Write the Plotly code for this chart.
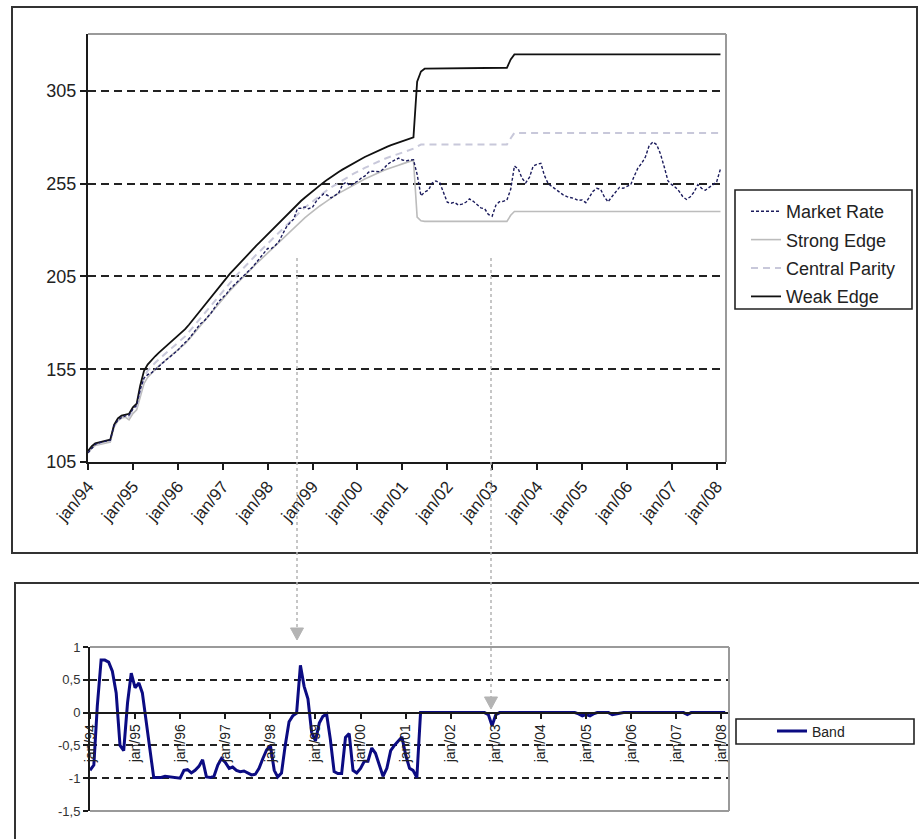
import pandas as pd
import plotly.graph_objects as go

W, H = 919, 839


def px(x):
    return x / W


def py(y):
    return 1 - y / H


# ---------------------------------------------------------------- data
# monthly observations, Jan 1994 .. Feb 2008
month_dates = pd.date_range("1994-01-01", periods=170, freq="MS")

market_rate = [
    110.0, 112.5, 114.5, 115.4, 115.9, 116.4, 116.8, 124.6, 127.5, 129.0,
    129.9, 130.3, 133.5, 135.6, 143.8, 150.2, 152.1, 153.0, 154.9, 156.8,
    158.6, 160.2, 161.8, 163.5, 165.2, 167.5, 169.3, 171.4, 174.0, 176.6,
    179.4, 180.8, 183.1, 185.6, 188.7, 191.6, 193.7, 195.7, 198.2, 200.1,
    202.1, 204.1, 206.1, 208.1, 210.1, 212.6, 215.2, 217.8, 220.1, 220.1,
    221.5, 223.7, 227.8, 231.5, 233.9, 235.9, 241.7, 241.8, 242.5, 241.5,
    242.4, 245.6, 247.7, 249.5, 248.8, 247.4, 248.6, 249.9, 254.3, 255.9,
    253.9, 254.9, 256.3, 258.0, 259.1, 261.2, 261.7, 261.6, 261.5, 263.0,
    265.4, 266.7, 267.7, 268.8, 267.8, 267.3, 267.7, 267.9, 260.0, 248.5,
    250.5, 251.6, 255.4, 256.5, 255.5, 250.5, 245.0, 244.5, 245.0, 243.5,
    244.0, 245.0, 246.8, 245.5, 243.5, 242.0, 241.5, 238.5, 237.5, 243.5,
    245.3, 245.5, 246.2, 252.0, 264.5, 263.0, 258.0, 255.5, 258.5, 264.5,
    265.5, 266.0, 259.5, 255.0, 253.5, 252.0, 250.5, 249.0, 248.0, 247.5,
    247.0, 246.0, 246.3, 244.8, 247.5, 251.0, 252.5, 252.0, 248.0, 245.2,
    248.0, 250.5, 253.0, 252.5, 253.5, 254.5, 259.0, 263.5, 266.0, 269.5,
    275.5, 277.5, 276.0, 271.0, 264.0, 256.5, 254.5, 253.0, 251.0, 248.0,
    246.5, 248.0, 250.5, 254.5, 252.5, 251.5, 253.0, 254.5, 256.0, 263.0,
]

band_position = [
    -0.88, -0.80, 0.10, 0.80, 0.80, 0.77, 0.63, 0.30, -0.50, -0.58,
    0.15, 0.60, 0.38, 0.45, 0.30, -0.12, -0.55, -0.99, -0.99, -0.99,
    -0.97, -0.98, -0.99, -1.00, -1.00, -0.88, -0.87, -0.92, -0.88, -0.82,
    -0.72, -0.98, -0.99, -0.97, -0.80, -0.70, -0.76, -0.85, -0.83, -0.88,
    -0.90, -0.89, -0.92, -0.95, -0.94, -0.85, -0.70, -0.57, -0.50, -0.88,
    -0.98, -0.92, -0.50, -0.14, -0.05, -0.01, 0.72, 0.40, 0.21, -0.30,
    -0.43, -0.16, -0.06, -0.02, -0.40, -0.90, -0.93, -0.93, -0.38, -0.32,
    -0.88, -0.92, -0.85, -0.74, -0.74, -0.54, -0.62, -0.80, -0.97, -0.85,
    -0.58, -0.50, -0.44, -0.37, -0.65, -0.85, -0.88, -0.99, 0.00, 0.00,
    0.00, 0.00, 0.00, 0.00, 0.00, 0.00, 0.00, 0.00, 0.00, 0.00,
    0.00, 0.00, 0.00, 0.00, 0.00, 0.00, -0.03, -0.20, -0.03, 0.00,
    0.00, 0.00, 0.00, 0.00, 0.00, 0.00, 0.00, 0.00, 0.00, 0.00,
    0.00, 0.00, 0.00, 0.00, 0.00, 0.00, 0.00, 0.00, 0.00, 0.00,
    -0.02, -0.05, -0.03, -0.05, -0.02, 0.00, 0.00, 0.00, 0.00, -0.03,
    -0.02, 0.00, 0.00, 0.00, 0.00, 0.00, 0.00, 0.00, 0.00, 0.00,
    0.00, 0.00, 0.00, 0.00, 0.00, 0.00, 0.00, 0.00, 0.00, -0.03,
    0.00, 0.00, 0.00, 0.00, 0.00, 0.00, 0.00, 0.00, 0.00, 0.00,
]

# band edges: monthly through Jul 2001, then only where the band changes
edge_dates = list(month_dates[:91]) + [
    pd.Timestamp(d) for d in ["2003-05-01", "2003-06-01", "2003-07-01", "2008-02-01"]
]

weak_edge = [
    111.0, 113.5, 115.0, 115.5, 116.0, 116.5, 117.0, 125.0, 128.5, 130.0,
    130.5, 131.0, 134.5, 136.5, 146.0, 154.0, 157.5, 160.0, 162.0, 164.0,
    165.8, 167.5, 169.2, 171.0, 172.8, 174.7, 176.6, 179.0, 181.5, 184.0,
    186.5, 189.0, 191.5, 194.0, 196.5, 199.0, 201.5, 204.0, 206.5, 208.7,
    210.9, 213.0, 215.2, 217.4, 219.5, 221.6, 223.6, 225.6, 227.6, 229.6,
    231.6, 233.6, 235.6, 238.0, 240.0, 242.0, 244.0, 245.8, 247.6, 249.3,
    251.0, 252.6, 254.2, 255.7, 257.2, 258.7, 260.0, 261.3, 262.6, 263.8,
    265.0, 266.2, 267.2, 268.3, 269.4, 270.4, 271.4, 272.4, 273.3, 274.2,
    275.0, 275.8, 276.5, 277.2, 277.9, 278.6, 279.3, 280.0, 310.0, 315.5,
    317.0, 317.5, 322.0, 324.7, 324.7,
]

strong_edge = [
    109.9, 112.4, 113.9, 114.3, 114.8, 115.3, 115.8, 123.8, 127.2, 128.7,
    129.2, 127.7, 131.1, 133.1, 139.6, 147.2, 150.6, 153.0, 154.9, 156.8,
    158.5, 160.1, 161.8, 163.5, 165.2, 167.0, 168.8, 171.1, 173.5, 175.9,
    178.3, 180.7, 183.1, 185.5, 187.9, 190.2, 192.6, 195.0, 197.4, 199.5,
    201.6, 203.6, 205.7, 207.8, 209.8, 211.9, 213.8, 215.7, 217.6, 219.5,
    221.4, 223.3, 225.2, 227.5, 229.4, 231.4, 233.3, 235.0, 236.7, 238.3,
    240.0, 241.5, 243.0, 244.4, 245.9, 247.3, 248.6, 249.8, 251.0, 252.2,
    253.3, 254.5, 255.4, 256.5, 257.5, 258.5, 259.5, 260.4, 261.3, 262.1,
    262.9, 263.7, 264.3, 265.0, 265.7, 266.3, 267.0, 267.7, 237.0, 235.0,
    234.7, 234.7, 238.0, 240.0, 240.0,
]

central_parity = [
    110.5, 113.0, 114.5, 114.9, 115.4, 115.9, 116.4, 124.4, 127.9, 129.4,
    129.9, 129.4, 132.8, 134.8, 142.8, 150.6, 154.1, 156.5, 158.5, 160.4,
    162.2, 163.8, 165.5, 167.3, 169.0, 170.9, 172.7, 175.1, 177.5, 180.0,
    182.4, 184.9, 187.3, 189.8, 192.2, 194.6, 197.1, 199.5, 202.0, 204.1,
    206.3, 208.3, 210.5, 212.6, 214.7, 216.8, 218.7, 220.7, 222.6, 224.6,
    226.5, 228.5, 230.4, 232.8, 234.7, 236.7, 238.7, 240.4, 242.2, 243.8,
    245.5, 247.1, 248.6, 250.1, 251.6, 253.0, 254.3, 255.6, 256.8, 258.0,
    259.2, 260.4, 261.3, 262.4, 263.5, 264.5, 265.5, 266.4, 267.3, 268.2,
    269.0, 269.8, 270.4, 271.1, 271.8, 272.5, 273.2, 273.9, 275.0, 276.1,
    276.1, 276.1, 279.5, 282.4, 282.4,
]

year_ticks = pd.date_range("1994-01-01", "2008-01-01", freq="YS")
year_labels = [
    "jan/94", "jan/95", "jan/96", "jan/97", "jan/98", "jan/99", "jan/00",
    "jan/01", "jan/02", "jan/03", "jan/04", "jan/05", "jan/06", "jan/07", "jan/08",
]

rate_ticks = [105, 155, 205, 255, 305]
band_ticks = [-1.5, -1, -0.5, 0, 0.5, 1]
band_tick_labels = ["-1,5", "-1", "-0,5", "0", "0,5", "1"]

# ---------------------------------------------------------------- styling
FONT = "Liberation Sans, Arial, sans-serif"
INK = "#1a1a1a"
TOP_X = (88, 726)
TOP_Y = (34, 462)
BOT_X = (90, 729)
BOT_Y = (647, 811)
BAND_RANGE = [-1.5, 1.0]

fig = go.Figure()

fig.add_trace(go.Scatter(
    x=edge_dates, y=strong_edge, name="Strong Edge", mode="lines",
    line=dict(color="#bcbcbc", width=1.6),
    legendgroup="g2", legendrank=2, xaxis="x", yaxis="y",
))
fig.add_trace(go.Scatter(
    x=edge_dates, y=central_parity, name="Central Parity", mode="lines",
    line=dict(color="#c8c8da", width=2, dash="7px,5px"),
    legendgroup="g3", legendrank=3, xaxis="x", yaxis="y",
))
fig.add_trace(go.Scatter(
    x=edge_dates, y=weak_edge, name="Weak Edge", mode="lines",
    line=dict(color="#111111", width=1.8),
    legendgroup="g4", legendrank=4, xaxis="x", yaxis="y",
))
fig.add_trace(go.Scatter(
    x=month_dates, y=market_rate, name="Market Rate", mode="lines",
    line=dict(color="#1b1b5c", width=1.4, dash="3px,2px"),
    legendgroup="g1", legendrank=1, xaxis="x", yaxis="y",
))
fig.add_trace(go.Scatter(
    x=month_dates, y=band_position, name="Band", mode="lines",
    line=dict(color="#0b0b82", width=3),
    xaxis="x2", yaxis="y2", legend="legend2",
))

# paper position of band value 0 (where the lower x axis crosses)
bot_y0, bot_y1 = py(BOT_Y[1]), py(BOT_Y[0])
zero_frac = (0 - BAND_RANGE[0]) / (BAND_RANGE[1] - BAND_RANGE[0])
zero_paper = bot_y0 + zero_frac * (bot_y1 - bot_y0)

axis_common = dict(
    showline=True, linecolor=INK, linewidth=2,
    ticks="outside", tickcolor=INK, tickwidth=2,
    zeroline=False, automargin=False,
)

fig.update_layout(
    width=W, height=839,
    margin=dict(l=0, r=0, t=0, b=0),
    paper_bgcolor="white", plot_bgcolor="white",
    font=dict(family=FONT, color="#222222"),
    xaxis=dict(
        domain=[px(TOP_X[0]), px(TOP_X[1])], anchor="y", type="date",
        range=["1994-01-01", "2008-03-17"],
        tickmode="array", tickvals=year_ticks, ticktext=year_labels,
        tickangle=-50, ticklen=6, showgrid=False,
        tickfont=dict(size=17), **axis_common,
    ),
    yaxis=dict(
        domain=[py(TOP_Y[1]), py(TOP_Y[0])], anchor="x",
        range=[105, 335.7], tickmode="array", tickvals=rate_ticks,
        ticklen=6, showgrid=True, gridcolor="#222222", gridwidth=2,
        griddash="8px,5px", tickfont=dict(size=18), **axis_common,
    ),
    xaxis2=dict(
        domain=[px(BOT_X[0]), px(BOT_X[1])], anchor="free", position=zero_paper,
        type="date", range=["1994-01-01", "2008-03-03"],
        tickmode="array", tickvals=year_ticks, ticktext=year_labels,
        tickangle=-90, ticklen=5, showgrid=False,
        tickfont=dict(size=14, color="#222222"), **axis_common,
    ),
    yaxis2=dict(
        domain=[bot_y0, bot_y1], anchor="x2",
        range=BAND_RANGE, tickmode="array", tickvals=band_ticks,
        ticktext=band_tick_labels, ticklen=5, showgrid=True,
        gridcolor="#222222", gridwidth=2, griddash="7px,5px",
        tickfont=dict(size=13, color="#333333"), **axis_common,
    ),
    legend=dict(
        x=px(746), y=py(193), xanchor="left", yanchor="top",
        bgcolor="rgba(0,0,0,0)", borderwidth=0,
        font=dict(size=18, color="#222222"), tracegroupgap=2,
    ),
    legend2=dict(
        x=px(772), y=py(731.5), xanchor="left", yanchor="middle",
        bgcolor="rgba(0,0,0,0)", borderwidth=0,
        font=dict(size=14, color="#222222"),
    ),
    showlegend=True,
)

shapes = []
# outer frames of the two chart panels
shapes.append(dict(type="rect", xref="paper", yref="paper",
                   x0=px(12), x1=px(917), y0=py(553), y1=py(7),
                   line=dict(color="#333333", width=2), layer="below"))
shapes.append(dict(type="rect", xref="paper", yref="paper",
                   x0=px(15), x1=px(935), y0=py(860), y1=py(583),
                   line=dict(color="#333333", width=2), layer="below"))
# legend frames
shapes.append(dict(type="rect", xref="paper", yref="paper",
                   x0=px(735), x1=px(912), y0=py(309), y1=py(190),
                   line=dict(color="#222222", width=1.6), fillcolor="white",
                   layer="below"))
shapes.append(dict(type="rect", xref="paper", yref="paper",
                   x0=px(736), x1=px(914), y0=py(744), y1=py(719),
                   line=dict(color="#222222", width=1.6), fillcolor="white",
                   layer="below"))
# thin grey plot-area borders on the open sides
for xr, yr, sides in (("x domain", "y domain", ("top", "right")),
                      ("x2 domain", "y2 domain", ("top", "right", "bottom"))):
    for side in sides:
        if side == "top":
            seg = dict(x0=0, x1=1, y0=1, y1=1)
        elif side == "bottom":
            seg = dict(x0=0, x1=1, y0=0, y1=0)
        else:
            seg = dict(x0=1, x1=1, y0=0, y1=1)
        shapes.append(dict(type="line", xref=xr, yref=yr,
                           line=dict(color="#9a9a9a", width=2), layer="above",
                           **seg))


# dotted pointers linking the two panels
def pointer(x, y_start, y_tip):
    shapes.append(dict(type="line", xref="paper", yref="paper",
                       x0=px(x), x1=px(x), y0=py(y_start), y1=py(y_tip - 10),
                       line=dict(color="#b4b4b4", width=1.5, dash="dot"),
                       layer="above"))
    path = "M {:.5f} {:.5f} L {:.5f} {:.5f} L {:.5f} {:.5f} Z".format(
        px(x - 6.5), py(y_tip - 12), px(x + 6.5), py(y_tip - 12), px(x), py(y_tip))
    shapes.append(dict(type="path", xref="paper", yref="paper", path=path,
                       fillcolor="#b4b4b4", line=dict(color="#b4b4b4", width=1),
                       layer="above"))


pointer(297, 258, 640)
pointer(491, 258, 709)

fig.update_layout(shapes=shapes)

fig.write_html("out.html")
